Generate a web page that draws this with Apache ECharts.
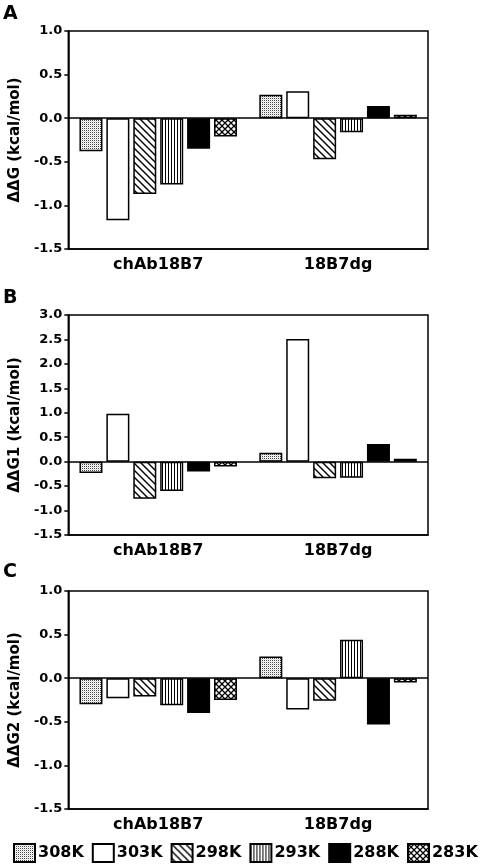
<!DOCTYPE html>
<html>
<head>
<meta charset="utf-8">
<script src="https://cdn.jsdelivr.net/npm/echarts@6/dist/echarts.min.js"></script>
<style>
html,body{margin:0;padding:0;background:#fff;}
#chart{width:480px;height:864px;}
</style>
</head>
<body>
<div id="chart"></div>
<script>
// ---- data ----
const categories = ['chAb18B7', '18B7dg'];
const temps = ['308K', '303K', '298K', '293K', '288K', '283K'];
const yNames = ['ΔΔG (kcal/mol)', 'ΔΔG1 (kcal/mol)', 'ΔΔG2 (kcal/mol)'];
const panelLetters = ['A', 'B', 'C'];
// values per temperature (order of temps) for each category
const ddG_chAb  = [-0.38, -1.17, -0.87, -0.76, -0.35, -0.21];
const ddG_dg    = [ 0.27,  0.31, -0.47, -0.16,  0.14,  0.04];
const ddG1_chAb = [-0.23,  0.98, -0.76, -0.60, -0.20, -0.10];
const ddG1_dg   = [ 0.18,  2.51, -0.34, -0.33,  0.36,  0.06];
const ddG2_chAb = [-0.30, -0.23, -0.21, -0.31, -0.40, -0.25];
const ddG2_dg   = [ 0.25, -0.36, -0.26,  0.44, -0.53, -0.05];
const yMin = [-1.5, -1.5, -1.5];
const yMax = [1.0, 3.0, 1.0];
const yStep = [0.5, 0.5, 0.5];

// ---- patterns ----
function tile(w, h, draw) {
  const c = document.createElement('canvas');
  c.width = w; c.height = h;
  const g = c.getContext('2d');
  g.fillStyle = '#fff'; g.fillRect(0, 0, w, h);
  draw(g, w, h);
  return { image: c, repeat: 'repeat' };
}
const patStipple = tile(2, 2, (g) => {
  g.fillStyle = '#444';
  g.fillRect(0, 0, 1, 1);
  g.fillStyle = '#ddd';
  g.fillRect(1, 1, 1, 1);
});
const patDiag = tile(7, 7, (g, w, h) => {
  g.strokeStyle = '#000'; g.lineWidth = 1.4;
  g.beginPath();
  g.moveTo(-1, -1); g.lineTo(w + 1, h + 1);
  g.moveTo(w - 2, -2); g.lineTo(w + 2, 2);
  g.moveTo(-2, h - 2); g.lineTo(2, h + 2);
  g.stroke();
});
const patVert = tile(3, 3, (g) => {
  g.fillStyle = '#000';
  g.fillRect(0, 0, 1, 3);
});
const patCross = tile(6, 6, (g, w, h) => {
  g.strokeStyle = '#000'; g.lineWidth = 1.3;
  g.beginPath();
  g.moveTo(-1, -1); g.lineTo(w + 1, h + 1);
  g.moveTo(w + 1, -1); g.lineTo(-1, h + 1);
  g.moveTo(w - 2, -2); g.lineTo(w + 2, 2);
  g.moveTo(-2, h - 2); g.lineTo(2, h + 2);
  g.moveTo(2, -2); g.lineTo(-2, 2);
  g.moveTo(w + 2, h - 2); g.lineTo(w - 2, h + 2);
  g.stroke();
});
const fills = [patStipple, '#ffffff', patDiag, patVert, '#000000', patCross];

// ---- layout ----
const FONT = 'DejaVu Sans';
const grids = [
  { left: 63, width: 365, top: 31, height: 218 },
  { left: 63, width: 365, top: 315, height: 220 },
  { left: 63, width: 365, top: 591, height: 218 }
];
const letterTops = [5, 289, 563];
const panelData = [[ddG_chAb, ddG_dg], [ddG1_chAb, ddG1_dg], [ddG2_chAb, ddG2_dg]];

const option = {
  animation: false,
  backgroundColor: '#fff',
  textStyle: { fontFamily: FONT },
  grid: grids.map(g => Object.assign({ show: true, borderColor: '#000', borderWidth: 1.5, backgroundColor: 'transparent', containLabel: false }, g)),
  graphic: panelLetters.map((t, i) => ({
    type: 'text', left: 3, top: letterTops[i],
    style: { text: t, font: 'bold 19px "' + FONT + '"', fill: '#000' }
  })),
  legend: {
    data: temps,
    left: 13, top: 843,
    width: 470,
    padding: 0,
    icon: 'rect',
    itemWidth: 21, itemHeight: 18,
    itemGap: 8,
    textStyle: { fontFamily: FONT, fontWeight: 'bold', fontSize: 16, color: '#000', padding: [0, 0, 0, -2] },
    selectedMode: false
  },
  xAxis: grids.map((g, i) => ({
    type: 'category', gridIndex: i, data: categories,
    axisLine: { onZero: false, lineStyle: { color: '#000', width: 1.5 } },
    axisTick: { show: false },
    axisLabel: { color: '#000', fontFamily: FONT, fontWeight: 'bold', fontSize: 16, margin: 8 },
    splitLine: { show: false }
  })),
  yAxis: grids.map((g, i) => ({
    type: 'value', gridIndex: i, min: yMin[i], max: yMax[i], interval: yStep[i],
    name: yNames[i], nameLocation: 'middle', nameGap: 33, nameRotate: 90,
    nameTextStyle: { color: '#000', fontFamily: FONT, fontWeight: 'bold', fontSize: 15 },
    axisLine: { show: true, lineStyle: { color: '#000', width: 1.5 } },
    axisTick: { show: true, inside: false, length: 4, lineStyle: { color: '#000', width: 1.5 } },
    axisLabel: { color: '#000', fontFamily: FONT, fontWeight: 'bold', fontSize: 13, margin: 6,
      formatter: v => v.toFixed(1) },
    splitLine: { show: false }
  })),
  series: []
};

panelData.forEach((pd, p) => {
  temps.forEach((t, k) => {
    const s = {
      type: 'bar', name: t, xAxisIndex: p, yAxisIndex: p,
      data: [pd[0][k], pd[1][k]],
      barWidth: 23, barGap: '17%',
      itemStyle: { color: fills[k], borderColor: '#000', borderWidth: 1.5 },
      emphasis: { disabled: true }
    };
    if (k === 0) {
      s.markLine = {
        silent: true, symbol: 'none', animation: false,
        label: { show: false },
        lineStyle: { color: '#000', width: 1.5, type: 'solid' },
        data: [{ yAxis: 0 }]
      };
    }
    option.series.push(s);
  });
});

const chart = echarts.init(document.getElementById('chart'), null, { renderer: 'canvas' });
chart.setOption(option);
</script>
</body>
</html>
